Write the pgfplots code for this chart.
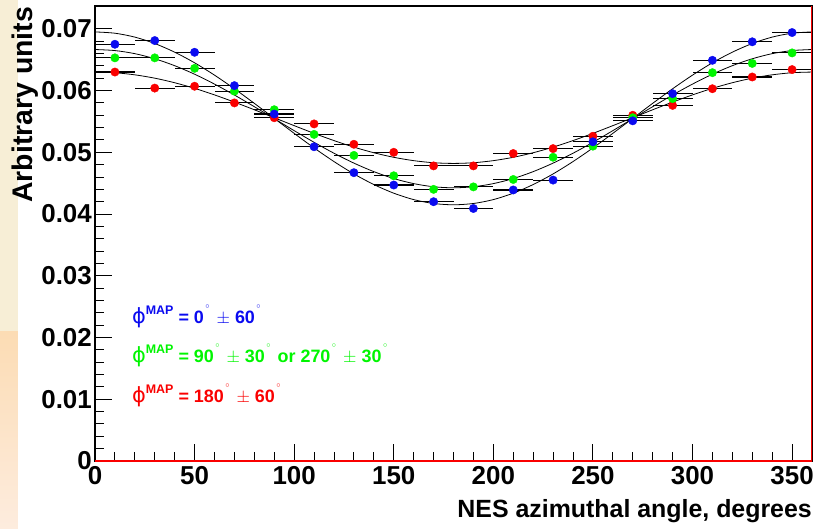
\documentclass[border=0pt]{standalone}
\usepackage{fontspec}
\setmainfont{Liberation Sans}
\newfontfamily\symf{DejaVu Sans}
\usepackage{pgfplots}
\usepackage{pgfplotstable}
\pgfplotsset{compat=1.18}

\definecolor{rblue}{RGB}{10,10,240}
\definecolor{rgreen}{RGB}{0,245,0}
\definecolor{rred}{RGB}{250,0,0}
\definecolor{stripA}{RGB}{247,238,214}
\definecolor{stripB}{RGB}{252,220,180}
\definecolor{stripC}{RGB}{253,236,222}

% measured points (bin centres, +-10 deg)
\pgfplotstableread{
x   b       g       r
10  0.0675  0.0653  0.0630
30  0.0681  0.0653  0.0604
50  0.0662  0.0636  0.0607
70  0.0608  0.0599  0.0580
90  0.0562  0.0569  0.0556
110 0.0509  0.0529  0.0546
130 0.0467  0.0495  0.0513
150 0.0447  0.0462  0.0500
170 0.0420  0.0440  0.0478
190 0.0409  0.0444  0.0478
210 0.0439  0.0456  0.0498
230 0.0455  0.0492  0.0506
250 0.0517  0.0510  0.0526
270 0.0551  0.0556  0.0560
290 0.0595  0.0587  0.0576
310 0.0649  0.0629  0.0603
330 0.0679  0.0644  0.0622
350 0.0694  0.0661  0.0634
}\pts

% fitted curves, sampled every 10 deg
\pgfplotstableread{
x   b        g        r
0   0.06950  0.06665  0.06300
10  0.06929  0.06648  0.06289
20  0.06866  0.06598  0.06255
30  0.06762  0.06515  0.06201
40  0.06622  0.06403  0.06127
50  0.06450  0.06265  0.06036
60  0.06250  0.06105  0.05930
70  0.06029  0.05928  0.05813
80  0.05793  0.05739  0.05689
90  0.05550  0.05545  0.05560
100 0.05307  0.05351  0.05432
110 0.05071  0.05162  0.05307
120 0.04850  0.04985  0.05190
130 0.04650  0.04825  0.05084
140 0.04478  0.04687  0.04993
150 0.04338  0.04575  0.04919
160 0.04234  0.04493  0.04865
170 0.04171  0.04442  0.04831
180 0.04150  0.04425  0.04820
190 0.04171  0.04442  0.04831
200 0.04234  0.04493  0.04865
210 0.04338  0.04575  0.04919
220 0.04478  0.04687  0.04993
230 0.04650  0.04825  0.05084
240 0.04850  0.04985  0.05190
250 0.05071  0.05162  0.05307
260 0.05307  0.05351  0.05432
270 0.05550  0.05545  0.05560
280 0.05793  0.05739  0.05689
290 0.06029  0.05928  0.05813
300 0.06250  0.06105  0.05930
310 0.06450  0.06265  0.06036
320 0.06622  0.06403  0.06127
330 0.06762  0.06515  0.06201
340 0.06866  0.06598  0.06255
350 0.06929  0.06648  0.06289
360 0.06950  0.06665  0.06300
}\fits

\newcommand{\phimap}{{\symf\mdseries\fontsize{21}{21}\selectfont ϕ}\raisebox{9bp}{\fontsize{12.5}{12.5}\selectfont MAP}}
\newcommand{\dg}{\hspace{1.5bp}\raisebox{15bp}{\fontsize{8}{8}\selectfont$\circ$}\hspace{2bp}}

\begin{document}
\begin{tikzpicture}
\path[use as bounding box] (-95bp,-68bp) rectangle (719bp,461bp);
\fill[stripA] (-95bp,129bp) rectangle (-77bp,461bp);
\shade[top color=stripB, bottom color=stripC] (-95bp,-68bp) rectangle (-77bp,129bp);
\begin{axis}[
    at={(0,0)}, anchor=south west,
    scale only axis, width=717bp, height=455bp,
    xmin=0, xmax=360, ymin=0, ymax=0.0737,
    axis line style={black, line width=1.2bp},
    xtick={0,50,100,150,200,250,300,350},
    xticklabels={0,50,100,150,200,250,300,350},
    ytick={0,0.01,0.02,0.03,0.04,0.05,0.06,0.07},
    yticklabels={0,0.01,0.02,0.03,0.04,0.05,0.06,0.07},
    minor x tick num=4, minor y tick num=4,
    xtick pos=bottom, ytick pos=left, tick align=inside,
    major tick length=17bp, minor tick length=9bp,
    tick style={black, line width=1bp},
    ticklabel style={font=\bfseries\fontsize{26}{26}\selectfont, inner sep=0pt},
    yticklabel style={xshift=-3bp},
    xticklabel style={yshift=-5bp},
    xlabel={NES azimuthal angle, degrees},
    xlabel style={at={(axis description cs:1,0)}, anchor=north east, yshift=-38bp,
        font=\bfseries\fontsize{25}{25}\selectfont, inner sep=0pt},
    ylabel={Arbitrary units},
    ylabel style={at={(axis description cs:-0.078,0.998)}, anchor=south east,
        font=\bfseries\fontsize{28.5}{28.5}\selectfont, inner sep=0pt},
    error bars/error bar style={black, line width=1.1bp},
]
\addplot[only marks, mark=*, mark size=4.2bp, mark options={draw=rred, fill=rred},
    error bars/.cd, x dir=both, x fixed=10, error mark=none] table[y=r] {\pts};
\addplot[only marks, mark=*, mark size=4.2bp, mark options={draw=rgreen, fill=rgreen},
    error bars/.cd, x dir=both, x fixed=10, error mark=none] table[y=g] {\pts};
\addplot[only marks, mark=*, mark size=4.2bp, mark options={draw=rblue, fill=rblue},
    error bars/.cd, x dir=both, x fixed=10, error mark=none] table[y=b] {\pts};

\addplot[black, line width=0.8bp, smooth, no marks] table[y=b] {\fits};
\addplot[black, line width=0.8bp, smooth, no marks] table[y=g] {\fits};
\addplot[black, line width=0.8bp, smooth, no marks] table[y=r] {\fits};

\draw[rred, line width=1.4bp] (rel axis cs:0,0) -- (rel axis cs:1,0) -- (rel axis cs:1,1);

\begin{scope}[every node/.style={anchor=base west, inner sep=0pt, font=\bfseries\fontsize{18}{18}\selectfont}]
\node[text=rblue] at (axis cs:18.5,0.0223) {\phimap{} = 0\dg{} $\pm$ 60\dg};
\node[text=rgreen] at (axis cs:18.5,0.0160) {\phimap{} = 90\dg{} $\pm$ 30\dg{} or 270\dg{} $\pm$ 30\dg};
\node[text=rred] at (axis cs:18.5,0.0094) {\phimap{} = 180\dg{} $\pm$ 60\dg};
\end{scope}
\end{axis}
\end{tikzpicture}
\end{document}
